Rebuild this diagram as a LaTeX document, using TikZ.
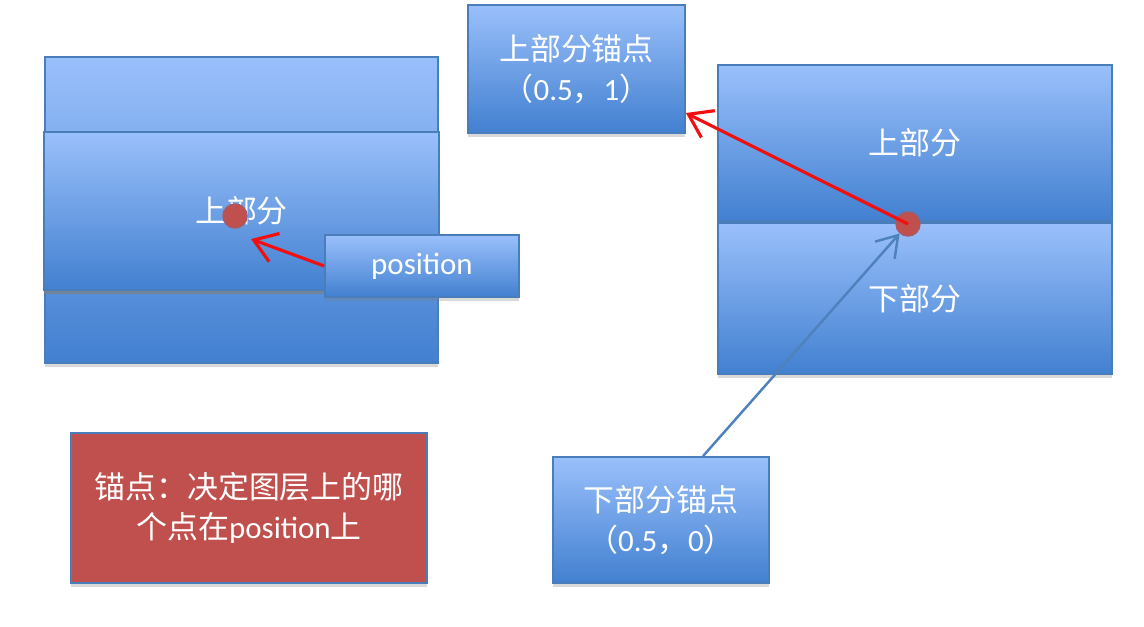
\documentclass[tikz,border=0pt]{standalone}
\usepackage{fontspec}
\setmainfont{Carlito}
\newfontfamily\cjk{Noto Sans CJK SC}
\usetikzlibrary{arrows.meta,positioning,shadows}
\definecolor{boxtop}{HTML}{9AC0FB}
\definecolor{boxbot}{HTML}{4280D0}
\definecolor{boxline}{HTML}{4A7EBB}
\definecolor{notered}{HTML}{C0504D}
\definecolor{arrred}{HTML}{F20F0F}
\definecolor{arrblue}{HTML}{4F81BD}
\newcommand{\zh}[1]{{\cjk #1}}

\begin{document}
\begin{tikzpicture}[
  blk/.style={draw=boxline,line width=0.5pt,top color=boxtop,bottom color=boxbot,text=white,
    font=\fontsize{8.8}{11.4}\selectfont,align=center,inner sep=0pt,
    drop shadow={shadow xshift=0pt,shadow yshift=-1.2pt,opacity=0.3}},
  note/.style={blk,fill=notered,top color=notered,bottom color=notered},
  dot/.style={circle,fill=notered,draw=notered!80!boxline,line width=0.4pt,minimum size=0.24cm,inner sep=0pt},
  redarr/.style={draw=arrred,line width=0.9pt,-{Straight Barb[length=2.2mm,width=3mm]}},
  bluearr/.style={draw=arrblue,line width=0.7pt,-{Straight Barb[length=2mm,width=2.6mm]}}]
\useasboundingbox (0,0) rectangle (11.44,-6.26);
\node[blk,minimum width=3.93cm,minimum height=3.06cm] (lback) at (2.415,-2.10) {};
\node[blk,minimum width=3.95cm,minimum height=1.58cm,
  drop shadow={shadow xshift=0pt,shadow yshift=-1.2pt,opacity=0.6}] (lfront) at (2.415,-2.11) {\zh{上部分}};
\node[dot] (ldot) at (2.35,-2.16) {};
\node[blk,minimum width=1.94cm,minimum height=0.62cm] (pos) at (4.22,-2.66) {position};
\coordinate (ltip) at (2.51,-2.39);
\draw[redarr] (pos.west) -- (ltip);
\node[blk,minimum width=2.17cm,minimum height=1.28cm] (upbox) at (5.765,-0.69) {\zh{上部分锚点}\\\zh{（}0.5\zh{，}1\zh{）}};
\node[blk,minimum width=3.94cm,minimum height=1.56cm] (rtop) at (9.15,-1.43) {\zh{上部分}};
\node[blk,minimum width=3.94cm,minimum height=1.51cm,below=0pt of rtop] (rbot) {\zh{下部分}};
\node[dot] (rdot) at (9.08,-2.24) {};
\draw[redarr] (rdot.center) -- ([yshift=-0.44cm]upbox.east);
\node[blk,minimum width=2.16cm,minimum height=1.26cm] (lowbox) at (6.61,-5.20) {\zh{下部分锚点}\\\zh{（}0.5\zh{，}0\zh{）}};
\draw[bluearr] ([xshift=0.42cm]lowbox.north) -- (rdot);
\node[note,minimum width=3.56cm,minimum height=1.50cm] (note) at (2.49,-5.08) {\zh{锚点：决定图层上的哪}\\\zh{个点在}position\zh{上}};
\end{tikzpicture}
\end{document}
